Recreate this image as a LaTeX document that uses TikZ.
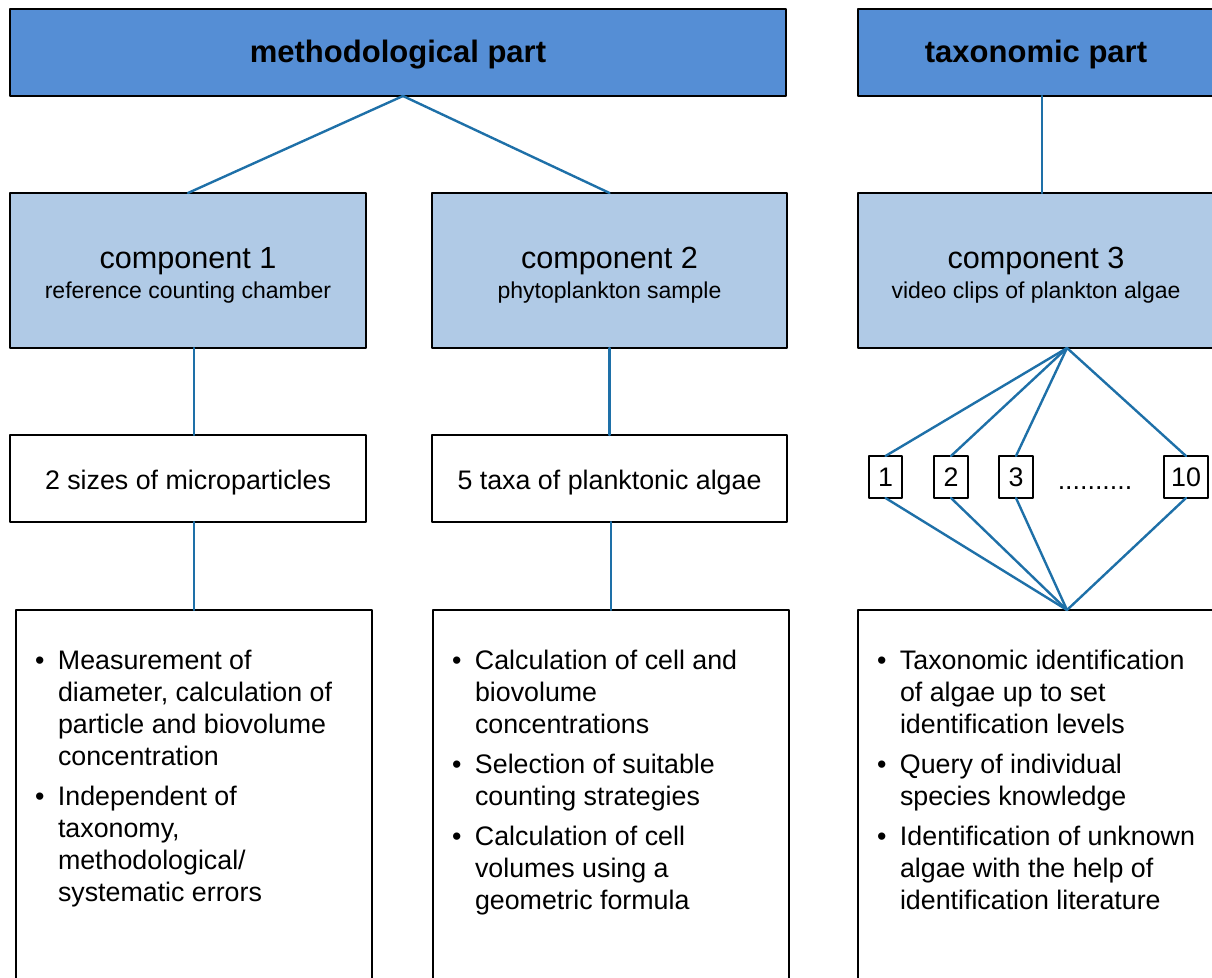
\documentclass[tikz,border=0pt]{standalone}
\usepackage{fontspec}
\setmainfont{Liberation Sans}
\definecolor{partblue}{RGB}{85,142,213}
\definecolor{compblue}{RGB}{176,202,230}
\definecolor{linkblue}{RGB}{30,112,168}
\newcommand{\bigline}[1]{{\fontsize{15.3}{15}\selectfont\rule{0pt}{15.5pt}#1}}

\begin{document}
\begin{tikzpicture}[x=0.5pt,y=-0.5pt,line cap=round,line join=round,
		every node/.style={inner sep=0pt,outer sep=0pt},
		partbox/.style={draw=black,line width=1pt,fill=partblue,minimum height=43.5pt,text height=13.3pt,text depth=3.3pt,font=\fontsize{15.5}{16}\selectfont\bfseries},
		compbox/.style={draw=black,line width=1pt,fill=compblue,minimum width=178pt,minimum height=77.5pt,align=center,font=\fontsize{11.5}{15}\selectfont},
		sizebox/.style={draw=black,line width=1pt,fill=white,minimum width=178pt,minimum height=43.5pt,text height=13.5pt,text depth=2.5pt,font=\fontsize{13.4}{16}\selectfont},
		listbox/.style={draw=black,line width=1pt,minimum width=178pt,minimum height=195pt},
		numbox/.style={draw=black,line width=1pt,minimum height=21pt,font=\fontsize{13.4}{16}\selectfont},
		listtext/.style={anchor=base west,font=\fontsize{13.4}{16}\selectfont},
		link/.style={draw=linkblue,line width=1.2pt}]
		\useasboundingbox (0,0) rectangle (1212,978);
		\clip (0,0) rectangle (1212,978);
		% the two parts
		\node[partbox,minimum width=388pt] (meth) at (398,52.5) {methodological part};
		\node[partbox,minimum width=178pt] (tax) at (1036,52.5) {taxonomic part};
		% components
		\node[compbox] (c1) at (188,270.5) {\bigline{component 1}\\reference counting chamber};
		\node[compbox,minimum width=177.5pt] (c2) at (609.5,270.5) {\bigline{component 2}\\phytoplankton sample};
		\node[compbox] (c3) at (1036,270.5) {\bigline{component 3}\\video clips of plankton algae};
		% second row
		\node[sizebox] (s1) at (188,478.5) {2 sizes of microparticles};
		\node[sizebox,minimum width=177.5pt] (s2) at (609.5,478.5) {5 taxa of planktonic algae};
		\node[numbox,minimum width=16.5pt] (n1) at (885.5,477) {1};
		\node[numbox,minimum width=17pt] (n2) at (951,477) {2};
		\node[numbox,minimum width=17pt] (n3) at (1016,477) {3};
		\node[numbox,minimum width=22pt] (n10) at (1186,477) {10};
		\node[anchor=base,font=\fontsize{13.4}{16}\selectfont] (dots) at (1095,490) {..........};
		% lists
		\node[listbox] (b1) at (194,805) {};
		\node[listbox] (b2) at (611,805) {};
		\node[listbox] (b3) at (1036,805) {};
		\node[listtext] (t1) at (35,670) {\begin{tabular}[t]{@{}p{11.5pt}@{}l@{}}
				\textbullet & Measurement of\\
				& diameter, calculation of\\
				& particle and biovolume\\
				& concentration\\[4pt]
				\textbullet & Independent of\\
				& taxonomy,\\
				& methodological/\\
				& systematic errors
			\end{tabular}};
		\node[listtext] (t2) at (452,670) {\begin{tabular}[t]{@{}p{11.5pt}@{}l@{}}
				\textbullet & Calculation of cell and\\
				& biovolume\\
				& concentrations\\[4pt]
				\textbullet & Selection of suitable\\
				& counting strategies\\[4pt]
				\textbullet & Calculation of cell\\
				& volumes using a\\
				& geometric formula
			\end{tabular}};
		\node[listtext] (t3) at (877,670) {\begin{tabular}[t]{@{}p{11.5pt}@{}l@{}}
				\textbullet & Taxonomic identification\\
				& of algae up to set\\
				& identification levels\\[4pt]
				\textbullet & Query of individual\\
				& species knowledge\\[4pt]
				\textbullet & Identification of unknown\\
				& algae with the help of\\
				& identification literature
			\end{tabular}};
		% connectors
		\draw[link] ([xshift=2.5pt]meth.south) -- (c1.north);
		\draw[link] ([xshift=2.5pt]meth.south) -- (c2.north);
		\draw[link] ([xshift=3pt]tax.south) -- ([xshift=3pt]c3.north);
		\draw[link] (c1.south -| b1.north) -- (s1.north -| b1.north);
		\draw[link] (s1.south -| b1.north) -- (b1.north);
		\draw[link] (c2.south) -- (s2.north);
		\draw[link] (s2.south -| b2.north) -- (b2.north);
		\coordinate (fantop) at (1067,348);
		\coordinate (fanbot) at (1067,610);
		\foreach \n in {n1,n2,n3,n10} {
			\draw[link] (fantop) -- (\n.north);
			\draw[link] (\n.south) -- (fanbot);
		}
	\end{tikzpicture}
\end{document}
